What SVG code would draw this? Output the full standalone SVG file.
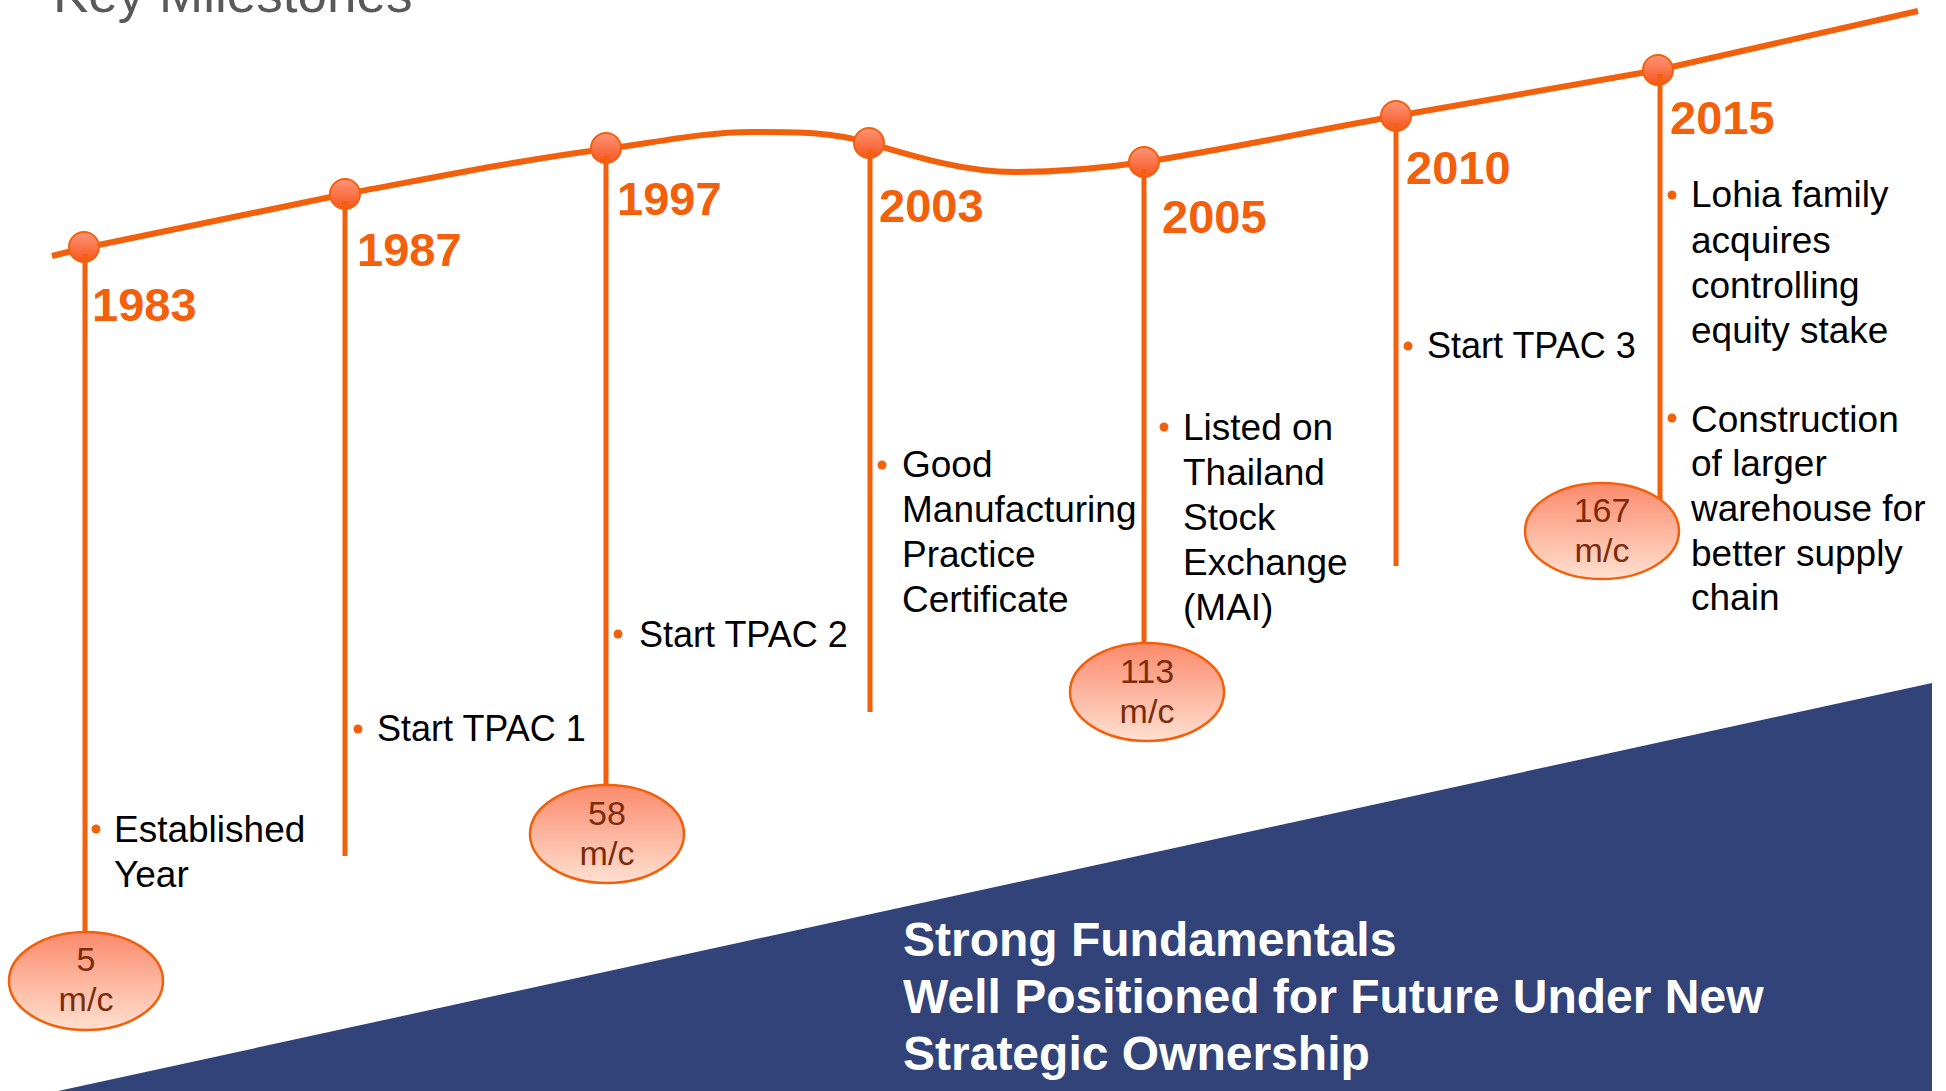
<svg xmlns="http://www.w3.org/2000/svg" width="1946" height="1091" viewBox="0 0 1946 1091">
  <defs>
    <linearGradient id="nodeFill" x1="0" y1="0" x2="0" y2="1">
      <stop offset="0" stop-color="#FF9478"/>
      <stop offset="1" stop-color="#F5561C"/>
    </linearGradient>
    <linearGradient id="badgeFill" x1="0" y1="0" x2="0" y2="1">
      <stop offset="0" stop-color="#FB8A6C"/>
      <stop offset="1" stop-color="#FEE0D0"/>
    </linearGradient>
    <style>
      .title { font-family: "Liberation Sans", Arial, sans-serif; font-size: 53px; fill: #595959; }
      .track { fill: none; stroke: #F2600C; stroke-width: 6; stroke-linecap: butt; }
      .stem { stroke: #F2600C; stroke-width: 5; }
      .dot { fill: url(#nodeFill); stroke: #F2600C; stroke-width: 2; }
      .badge { fill: url(#badgeFill); stroke: #F2600C; stroke-width: 2.5; }
      .badge-text { font-family: "Liberation Sans", Arial, sans-serif; font-size: 34px; fill: #7A2D0C; text-anchor: middle; }
      .year { font-family: "Liberation Sans", Arial, sans-serif; font-size: 47px; font-weight: bold; fill: #F2600C; }
      .item { font-family: "Liberation Sans", Arial, sans-serif; font-size: 37px; fill: #000000; }
      .item-sm { font-family: "Liberation Sans", Arial, sans-serif; font-size: 36px; fill: #000000; }
      .bullet { fill: #F2600C; }
      .banner { fill: #32437A; }
      .banner-text { font-family: "Liberation Sans", Arial, sans-serif; font-size: 48px; font-weight: bold; fill: #FFFFFF; }
    </style>
  </defs>

  <rect width="1946" height="1091" fill="#FFFFFF"/>

  <text class="title" x="53" y="12">Key Milestones</text>

  <!-- Banner -->
  <g id="banner">
    <polygon class="banner" points="58,1091 1932,683 1932,1091"/>
    <text class="banner-text" x="903" y="956">Strong Fundamentals</text>
    <text class="banner-text" x="903" y="1013">Well Positioned for Future Under New</text>
    <text class="banner-text" x="903" y="1070">Strategic Ownership</text>
  </g>

  <!-- Timeline track and stems -->
  <g id="connectors">
    <path class="track" d="M52,256 L84,248 L345,194 C432,178 519,160 606,149 C655,142.6 703,132 752,132 C791,132 830,131.3 869,143 C918,157.6 966,172 1015,172 C1058,172 1101,168.5 1144,162 C1228,149 1312,131 1396,116 L1658,70 L1918,11"/>
    <line class="stem" x1="85" y1="254" x2="85" y2="936"/>
    <line class="stem" x1="345" y1="201" x2="345" y2="856"/>
    <line class="stem" x1="606" y1="156" x2="606" y2="789"/>
    <line class="stem" x1="870" y1="150" x2="870" y2="712"/>
    <line class="stem" x1="1144" y1="169" x2="1144" y2="646"/>
    <line class="stem" x1="1396" y1="123" x2="1396" y2="566"/>
    <line class="stem" x1="1660" y1="77" x2="1660" y2="506"/>
  </g>

  <g id="m1983">
    <circle class="dot" cx="84" cy="247" r="15"/>
    <line class="stem" x1="85" y1="254" x2="85" y2="262"/>
    <text class="year" x="92" y="321">1983</text>
    <circle class="bullet" cx="96" cy="829" r="4.5"/>
    <text class="item" x="114" y="842">Established</text>
    <text class="item" x="114" y="887">Year</text>
    <ellipse class="badge" cx="86" cy="981" rx="77" ry="49"/>
    <text class="badge-text" x="86" y="971">5</text>
    <text class="badge-text" x="86" y="1011">m/c</text>
  </g>

  <g id="m1987">
    <circle class="dot" cx="345" cy="194" r="15"/>
    <line class="stem" x1="345" y1="201" x2="345" y2="209"/>
    <text class="year" x="357" y="266">1987</text>
    <circle class="bullet" cx="358" cy="729" r="4.5"/>
    <text class="item-sm" x="377" y="741">Start TPAC 1</text>
  </g>

  <g id="m1997">
    <circle class="dot" cx="606" cy="148" r="15"/>
    <line class="stem" x1="606" y1="156" x2="606" y2="163"/>
    <text class="year" x="617" y="215">1997</text>
    <circle class="bullet" cx="618" cy="634" r="4.5"/>
    <text class="item-sm" x="639" y="647">Start TPAC 2</text>
    <ellipse class="badge" cx="607" cy="834" rx="77" ry="49"/>
    <text class="badge-text" x="607" y="825">58</text>
    <text class="badge-text" x="607" y="865">m/c</text>
  </g>

  <g id="m2003">
    <circle class="dot" cx="869" cy="143" r="15"/>
    <line class="stem" x1="870" y1="150" x2="870" y2="158"/>
    <text class="year" x="879" y="222">2003</text>
    <circle class="bullet" cx="882" cy="465" r="4.5"/>
    <text class="item" x="902" y="477">Good</text>
    <text class="item" x="902" y="522">Manufacturing</text>
    <text class="item" x="902" y="567">Practice</text>
    <text class="item" x="902" y="612">Certificate</text>
  </g>

  <g id="m2005">
    <circle class="dot" cx="1144" cy="162" r="15"/>
    <line class="stem" x1="1144" y1="169" x2="1144" y2="177"/>
    <text class="year" x="1162" y="233">2005</text>
    <circle class="bullet" cx="1164" cy="427" r="4.5"/>
    <text class="item" x="1183" y="440">Listed on</text>
    <text class="item" x="1183" y="485">Thailand</text>
    <text class="item" x="1183" y="530">Stock</text>
    <text class="item" x="1183" y="575">Exchange</text>
    <text class="item" x="1183" y="620">(MAI)</text>
    <ellipse class="badge" cx="1147" cy="692" rx="77" ry="49"/>
    <text class="badge-text" x="1147" y="683">113</text>
    <text class="badge-text" x="1147" y="723">m/c</text>
  </g>

  <g id="m2010">
    <circle class="dot" cx="1396" cy="116" r="15"/>
    <line class="stem" x1="1396" y1="123" x2="1396" y2="131"/>
    <text class="year" x="1406" y="184">2010</text>
    <circle class="bullet" cx="1408" cy="346" r="4.5"/>
    <text class="item-sm" x="1427" y="358">Start TPAC 3</text>
  </g>

  <g id="m2015">
    <circle class="dot" cx="1658" cy="70" r="15"/>
    <line class="stem" x1="1660" y1="74" x2="1660" y2="84"/>
    <text class="year" x="1670" y="134">2015</text>
    <circle class="bullet" cx="1672" cy="195" r="4.5"/>
    <text class="item" x="1691" y="207">Lohia family</text>
    <text class="item" x="1691" y="253">acquires</text>
    <text class="item" x="1691" y="298">controlling</text>
    <text class="item" x="1691" y="343">equity stake</text>
    <circle class="bullet" cx="1672" cy="418" r="4.5"/>
    <text class="item" x="1691" y="432">Construction</text>
    <text class="item" x="1691" y="476">of larger</text>
    <text class="item" x="1691" y="521">warehouse for</text>
    <text class="item" x="1691" y="566">better supply</text>
    <text class="item" x="1691" y="610">chain</text>
    <ellipse class="badge" cx="1602" cy="531" rx="77" ry="48"/>
    <text class="badge-text" x="1602" y="522">167</text>
    <text class="badge-text" x="1602" y="562">m/c</text>
  </g>
</svg>
